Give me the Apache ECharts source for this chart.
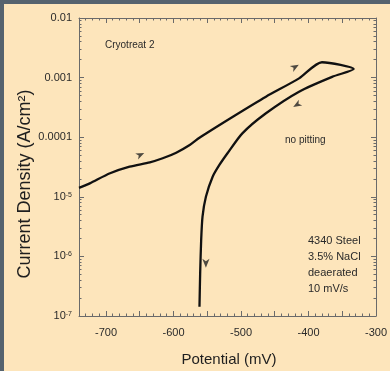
<!DOCTYPE html>
<html>
<head>
<meta charset="utf-8">
<script src="https://cdn.jsdelivr.net/npm/echarts@6/dist/echarts.min.js"></script>
<style>
  html, body { margin: 0; padding: 0; background: #56636e; }
  #main { position: absolute; left: 4px; top: 4px; width: 386px; height: 367px; }
</style>
</head>
<body>
<div id="main"></div>
<script>
// polarization scan (mV, A/cm2)
var potential = [-740, -724, -694, -665, -635, -616, -596, -576, -561, -512, -463, -414, -380,
  -333, -365, -414, -463, -498, -520, -532, -542, -552, -557, -559, -560.5, -561.5];
var current = [1.41e-5, 1.68e-5, 2.48e-5, 3.2e-5, 3.79e-5, 4.43e-5, 5.5e-5, 7.4e-5, 9.9e-5, 2.21e-4, 4.79e-4, 9.7e-4, 1.81e-3,
  1.39e-3, 1.03e-3, 5.8e-4, 2.52e-4, 1.16e-4, 5.37e-5, 3.42e-5, 2.17e-5, 1.0e-5, 4.64e-6, 1.88e-6, 5.2e-7, 1.43e-7];

// direction arrows on the curve (direction in degrees, 0 = right, 90 = up)
var arrowX = [-650, -421, -416, -552];
var arrowY = [4.8e-5, 1.43e-3, 3.7e-4, 7.7e-7];
var arrowDir = [25, 30, 210, 270];

var xTickLabels = [-700, -600, -500, -400, -300];
var yTickLabels = [1e-7, 1e-6, 1e-5, 1e-4, 1e-3, 1e-2];

var xMajor = [], xMinor = [];
for (var v = -740; v <= -300; v += 10) {
  if (v % 50 === 0) xMajor.push(v); else xMinor.push(v);
}
var yMinor = [];
for (var d = -7; d < -2; d++) {
  for (var m = 2; m <= 9; m++) yMinor.push(m * Math.pow(10, d));
}

// arrow head drawn already pointing the right way
function arrowPath(deg) {
  var a = deg * Math.PI / 180;
  var pts = [[1, 0], [-1, 0.8], [-0.45, 0], [-1, -0.8]];
  var s = pts.map(function (p, i) {
    var x = p[0] * Math.cos(a) - p[1] * Math.sin(a);
    var y = p[0] * Math.sin(a) + p[1] * Math.cos(a);
    return (i ? 'L' : 'M') + ((x + 2) * 10).toFixed(2) + ' ' + ((2 - y) * 10).toFixed(2);
  });
  return 'path://' + s.join(' ') + ' Z';
}

var axisCol = '#6a6a6a';
var txtCol = '#2a2a2a';
var font = 'Liberation Sans, Arial, sans-serif';

function xAx(pos, ticks, len, show) {
  return {
    type: 'value', position: pos, min: -740, max: -300,
    axisLine: { show: show, onZero: false, lineStyle: { color: axisCol, width: 1 } },
    axisTick: { show: true, inside: true, length: len, customValues: ticks, lineStyle: { color: axisCol } },
    axisLabel: { show: false },
    splitLine: { show: false }
  };
}
function yAx(pos, ticks, len, show) {
  return {
    type: 'log', position: pos, min: 1e-7, max: 1e-2, logBase: 10,
    axisLine: { show: show, lineStyle: { color: axisCol, width: 1 } },
    axisTick: { show: true, inside: true, length: len, customValues: ticks, lineStyle: { color: axisCol } },
    axisLabel: { show: false },
    splitLine: { show: false }
  };
}

var xMain = xAx('bottom', xMajor, 5, true);
xMain.axisLabel = {
  show: true, customValues: xTickLabels, margin: 11,
  color: txtCol, fontSize: 11, fontFamily: font
};
var yMain = yAx('left', yTickLabels, 5, true);
yMain.axisLabel = {
  show: true, customValues: yTickLabels, margin: 7,
  color: txtCol, fontSize: 11, fontFamily: font,
  formatter: function (val) {
    var e = Math.round(Math.log10(val));
    if (e >= -4) return '{b|' + Math.pow(10, e).toFixed(-e) + '}';
    return '{b|10}{s|' + e + '}';
  },
  rich: {
    b: { fontSize: 11, fontFamily: font, color: txtCol },
    s: { fontSize: 7, fontFamily: font, color: txtCol, verticalAlign: 'top', padding: [0, 0, 4, 0] }
  }
};

var myChart = echarts.init(document.getElementById('main'));

myChart.setOption({
  backgroundColor: '#fde5bb',
  animation: false,
  grid: { left: 75, top: 14, right: 12, bottom: 55 },
  xAxis: [
    xMain,
    xAx('bottom', xMinor, 2.5, false),
    xAx('top', xMajor, 5, true),
    xAx('top', xMinor, 2.5, false)
  ],
  yAxis: [
    yMain,
    yAx('left', yMinor, 2.5, false),
    yAx('right', yTickLabels, 5, true),
    yAx('right', yMinor, 2.5, false)
  ],
  series: [
    {
      type: 'line',
      data: potential.map(function (p, i) { return [p, current[i]]; }),
      showSymbol: false,
      smooth: 0.25,
      lineStyle: { color: '#111', width: 2.3 }
    },
    {
      type: 'scatter',
      data: arrowX.map(function (p, i) {
        return { value: [p, arrowY[i]], symbol: arrowPath(arrowDir[i]) };
      }),
      symbolSize: 9,
      symbolKeepAspect: true,
      itemStyle: { color: '#222' }
    }
  ],
  graphic: [
    { type: 'text', left: 101, top: 36, style: { text: 'Cryotreat 2', fontSize: 10, fontFamily: font, fill: txtCol } },
    { type: 'text', left: 281, top: 131, style: { text: 'no pitting', fontSize: 10, fontFamily: font, fill: txtCol } },
    { type: 'text', left: 304, top: 229, style: { text: '4340 Steel\n3.5% NaCl\ndeaerated\n10 mV/s', fontSize: 11, lineHeight: 16, fontFamily: font, fill: txtCol } },
    { type: 'text', x: 21, y: 180, rotation: Math.PI / 2,
      style: { text: 'Current Density (A/cm²)', fontSize: 18, fontFamily: font, fill: '#1e1e1e', align: 'center', verticalAlign: 'middle' } },
    { type: 'text', x: 225, y: 356,
      style: { text: 'Potential (mV)', fontSize: 15, fontFamily: font, fill: '#1e1e1e', align: 'center', verticalAlign: 'middle' } }
  ]
});
</script>
</body>
</html>
